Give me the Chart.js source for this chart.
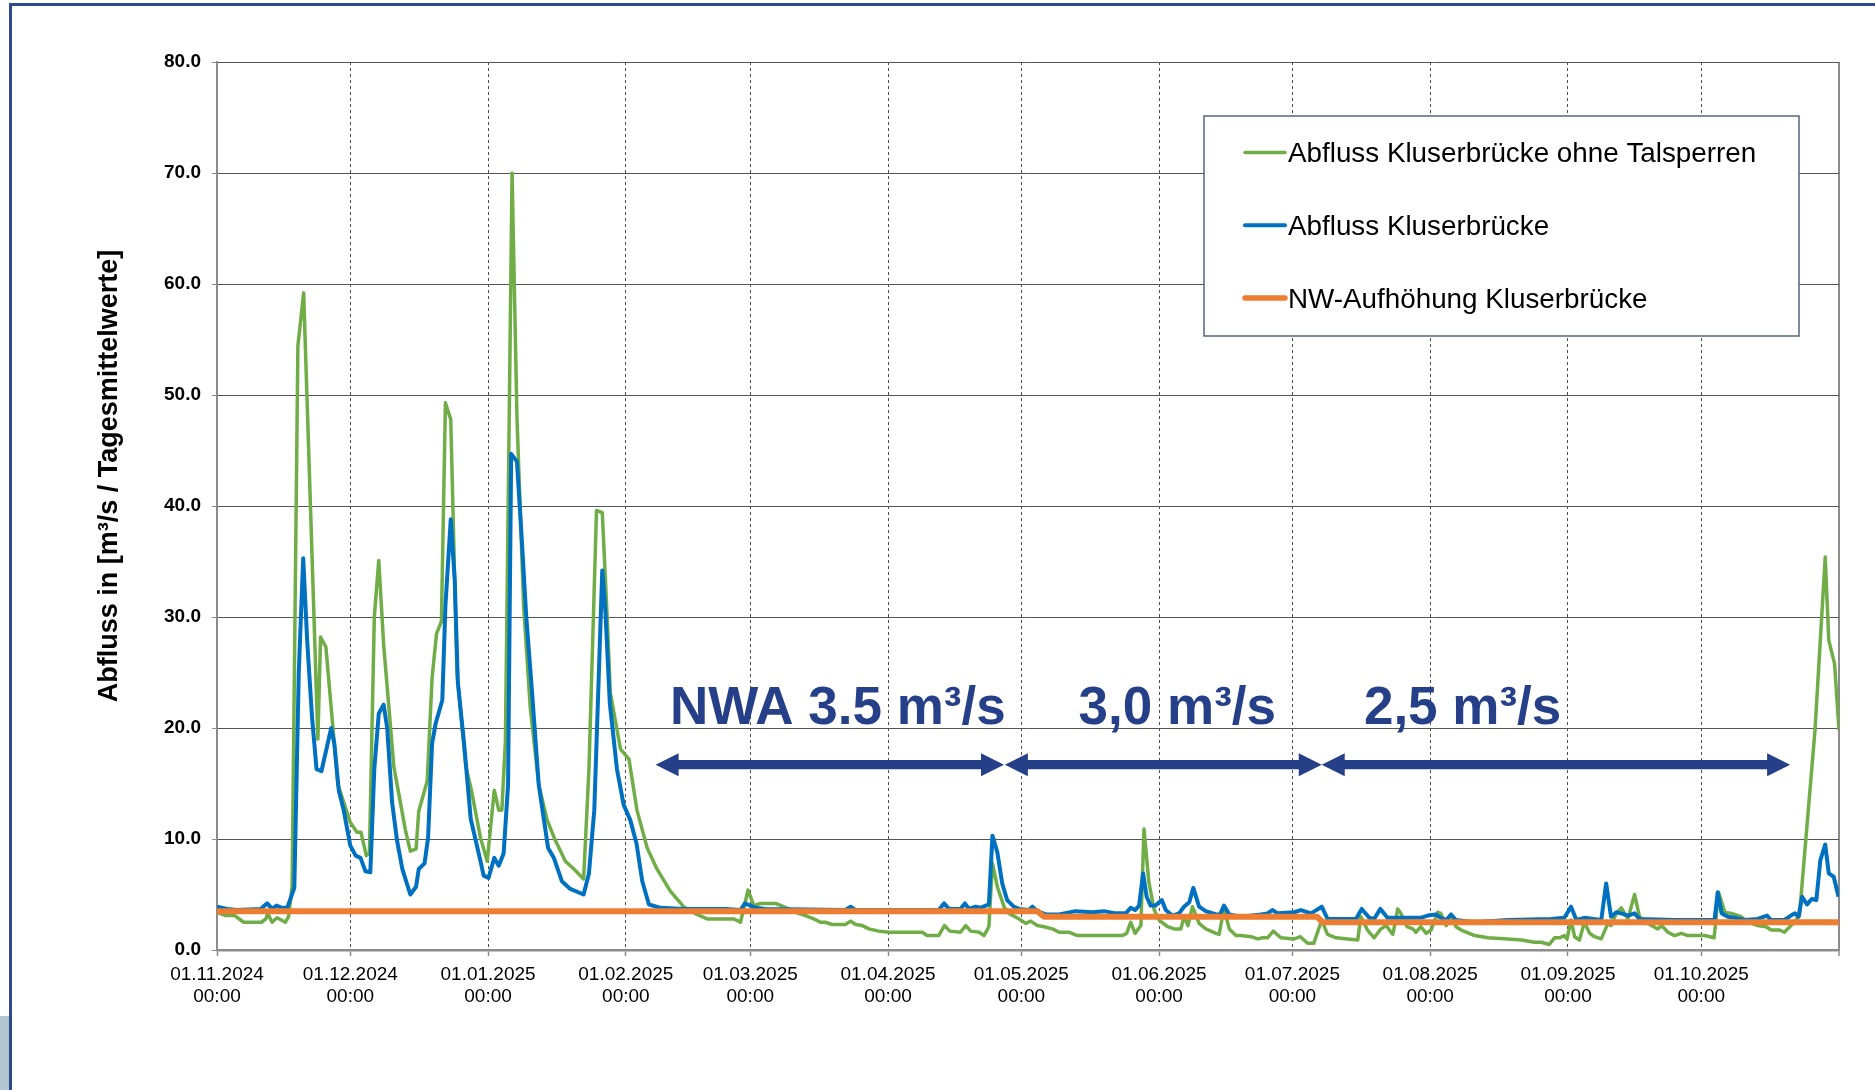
<!DOCTYPE html>
<html lang="de">
<head>
<meta charset="utf-8">
<title>Abfluss Kluserbrücke</title>
<script src="https://cdn.jsdelivr.net/npm/chart.js@4.4.1/dist/chart.umd.min.js"></script>
<style>
  html, body { margin: 0; padding: 0; background: #fff; overflow: hidden; }
  #wrap { position: relative; width: 1875px; height: 1090px; }
  #myChart { position: absolute; left: 0; top: 0; }
  .frame { position: absolute; left: 9px; top: 3px; right: 0; bottom: 0; border-top: 3px solid #2d4a8c; border-left: 3px solid #2d4a8c; pointer-events: none; }
  .corner { position: absolute; left: 0; top: 1016px; width: 9px; height: 74px; background: #b2c6d1; }
</style>
</head>
<body>
<div id="wrap">
  <canvas id="myChart" width="1875" height="1090"></canvas>
  <div class="frame"></div>
  <div class="corner"></div>
</div>
<script>
// days counted from 01.11.2024 (day 0) to 01.11.2025 (day 365)
const monthDays = [0, 30, 61, 92, 120, 151, 181, 212, 242, 273, 304, 334, 365];
const monthLabels = ['01.11.2024', '01.12.2024', '01.01.2025', '01.02.2025', '01.03.2025', '01.04.2025',
  '01.05.2025', '01.06.2025', '01.07.2025', '01.08.2025', '01.09.2025', '01.10.2025', ''];
const timeLabel = '00:00';

const seriesNames = ['Abfluss Kluserbrücke ohne Talsperren', 'Abfluss Kluserbrücke', 'NW-Aufhöhung Kluserbrücke'];
const seriesColors = ['#70ad47', '#0070c0', '#ed7d31'];
const yTitle = 'Abfluss in [m³/s / Tagesmittelwerte]';

// Abfluss ohne Talsperren (green)
const greenDays = [0, 2, 4, 6, 10, 11, 11.4, 12.4, 13.5, 15.4, 16.1, 16.9, 18.2, 19.5, 22.7, 23.3, 24.5, 27.2, 30, 31.5,
  32.4, 33.6, 34.3, 35.4, 36.4, 37.5, 39.8, 42.4, 43.5, 44.8, 45.4, 47.3, 48.4, 49.4, 50.5, 51.4, 52.6, 54, 56, 57.2,
  59.3, 60.8, 62.4, 63.4, 64.1, 64.9, 66.4, 67.5, 69, 70.5, 72.4, 74.3, 76.1, 78.4, 80.3, 82.5, 83.7, 85.4, 86.7, 87.8,
  88.5, 90.8, 92.7, 94.5, 96.8, 99, 102, 105, 108, 110.3, 114.4, 116.3, 117.8, 119.5, 120.8, 122.3, 125.7, 127.5, 130.2, 132.4,
  134.3, 135.8, 136.9, 138.4, 141.4, 142.6, 143.7, 145.2, 146.7, 148.9, 151.2, 158.7, 159.8, 162.4, 163.7, 164.9, 167.3, 168.5, 169.6, 171.5,
  172.6, 173.7, 174.5, 175.6, 177.1, 178.2, 180.5, 182, 183.1, 184.6, 186.1, 188, 189.5, 191.7, 193.6, 203.7, 204.7, 205.6, 206.6, 207.9,
  208.6, 209.7, 210.9, 212, 213.9, 215.4, 216.9, 217.6, 218.5, 219.5, 221, 222.5, 224.8, 225.5, 226.6, 227.8, 229.3, 230.4, 232.7, 234.2,
  235.3, 236.4, 237.7, 239.4, 242.4, 243.8, 245.4, 246.8, 248.6, 249.9, 251.8, 254.4, 256.7, 257.4, 258.9, 260.4, 261.9, 263.1, 264.6, 265.7,
  266.4, 267.8, 269.1, 269.8, 270.9, 272.1, 273.2, 274.7, 275.4, 276.6, 277.7, 278.8, 280, 283, 286, 290.5, 293.5, 296.5, 298, 299.8,
  301, 302.1, 303.2, 303.8, 304.7, 305.5, 306.6, 307.7, 308.9, 310, 311.5, 313, 313.7, 314.9, 316, 317.5, 319, 320.1, 322, 324.2,
  325.1, 326.5, 328, 329.5, 331, 334.8, 336.9, 337.9, 339.3, 340.8, 343, 344.1, 346.7, 348.6, 349.7, 351.6, 352.7, 354.2, 356.1, 359.6,
  361.9, 362.7, 364, 365];
const greenFlow = [3.4, 3.1, 3.1, 2.5, 2.5, 2.8, 3.3, 2.5, 2.9, 2.5, 3.0, 5.7, 54.4, 59.2, 19.0, 28.2, 27.3, 14.9, 11.5, 10.6,
  10.6, 8.5, 8.7, 30.0, 35.1, 27.5, 16.5, 10.8, 8.9, 9.1, 12.5, 15.2, 24.5, 28.5, 29.6, 49.3, 47.8, 25.0, 16.5, 14.5,
  10.1, 8.0, 14.4, 12.6, 12.6, 18.8, 70.0, 48.0, 31.0, 21.8, 14.9, 11.7, 9.9, 8.0, 7.3, 6.4, 16.3, 39.6, 39.4, 30.0,
  23.2, 18.1, 17.2, 12.6, 9.2, 7.3, 5.3, 3.9, 3.2, 2.8, 2.8, 2.8, 2.5, 5.4, 4.0, 4.2, 4.2, 3.9, 3.4, 3.1,
  2.8, 2.5, 2.5, 2.3, 2.3, 2.6, 2.3, 2.2, 1.9, 1.7, 1.6, 1.6, 1.3, 1.3, 2.2, 1.7, 1.6, 2.2, 1.7, 1.6,
  1.3, 2.1, 7.8, 5.7, 3.9, 3.3, 2.8, 2.4, 2.6, 2.2, 2.1, 1.9, 1.6, 1.6, 1.3, 1.3, 1.5, 2.5, 1.5, 2.2,
  10.9, 6.1, 3.6, 2.7, 2.1, 1.9, 1.9, 3.0, 2.2, 3.9, 2.4, 1.9, 1.5, 1.4, 3.7, 1.9, 1.3, 1.3, 1.2, 1.0,
  1.1, 1.1, 1.7, 1.1, 1.0, 1.2, 0.6, 0.6, 2.7, 1.4, 1.1, 1.0, 0.9, 3.0, 1.8, 1.1, 1.9, 2.2, 1.4, 3.7,
  3.3, 2.1, 1.9, 1.6, 2.1, 1.5, 1.8, 3.4, 3.3, 2.2, 3.0, 2.1, 1.8, 1.3, 1.1, 1.0, 0.9, 0.7, 0.7, 0.5,
  1.1, 1.1, 1.3, 1.0, 2.7, 1.2, 0.9, 2.5, 1.5, 1.2, 1.0, 2.4, 2.2, 3.3, 3.8, 2.8, 5.0, 3.0, 2.4, 1.9,
  2.2, 1.6, 1.3, 1.5, 1.3, 1.3, 1.1, 5.2, 3.4, 3.3, 3.0, 2.6, 2.2, 2.1, 1.8, 1.8, 1.6, 2.2, 3.1, 19.8,
  35.4, 27.9, 25.8, 19.8];

// Abfluss Kluserbruecke (blue)
const blueDays = [0, 2.3, 4.5, 9.8, 11.3, 12.4, 13.4, 14.6, 15.8, 17.4, 18.4, 19.4, 20.3, 21.4, 22.4, 23.5, 25.7, 26.4, 27.4, 28.5,
  30, 31.2, 32.3, 33.4, 34.5, 35.4, 36.4, 37.5, 38.3, 39.4, 40.5, 41.7, 43.5, 44.8, 45.4, 46.7, 47.5, 48.4, 49.2, 50.7,
  51.4, 52.6, 53.5, 54.2, 55.6, 57.1, 59.3, 60, 61.1, 62.4, 63.4, 64.5, 65.5, 66.2, 67.5, 68.6, 69.6, 70.9, 72.4, 74.5,
  75.8, 77.6, 79.5, 82.5, 83.7, 84.9, 86.7, 87.4, 88.4, 90, 91.5, 93, 94.4, 95.7, 97.2, 99.8, 105, 114.4, 117.8, 118.8,
  120, 121.2, 123.4, 141.4, 142.6, 143.7, 162.4, 163.6, 164.7, 167.3, 168.3, 169.2, 170.7, 171.8, 173, 173.7, 174.5, 175.6, 176.7, 177.8,
  179.3, 180.5, 182.7, 183.5, 184.6, 186.5, 189.5, 193.2, 197, 199.6, 202.2, 204.5, 205.6, 206.6, 207.5, 208.4, 209.2, 210.1, 211.2, 212.6,
  213.5, 215, 216.5, 217.6, 218.8, 219.7, 221, 222.5, 224.8, 225.7, 226.6, 227.8, 230.4, 234.9, 236.4, 237.5, 238.7, 242.4, 243.9, 246.2,
  248.6, 249.9, 256.3, 257.6, 259.3, 260.4, 261.8, 263.4, 270.9, 272.4, 274.3, 275.4, 276.6, 277.7, 278.8, 283, 290.5, 300.2, 303.2, 304.7,
  305.9, 307.7, 311.5, 312.6, 313.7, 314.9, 316, 317.5, 319, 320.1, 328, 337, 337.7, 338.6, 340, 341.5, 343.7, 346.7, 348.8, 349.7,
  352.7, 354.2, 355.1, 355.9, 356.7, 357.8, 358.9, 359.9, 360.8, 361.9, 362.7, 363.8, 364.9];
const blueFlow = [3.9, 3.7, 3.6, 3.7, 4.2, 3.7, 4.0, 3.8, 3.8, 5.6, 25.0, 35.3, 27.8, 20.9, 16.3, 16.1, 20.0, 18.6, 14.4, 12.6,
  9.4, 8.5, 8.3, 7.1, 7.0, 16.3, 21.3, 22.1, 20.0, 13.3, 9.9, 7.3, 5.0, 5.7, 7.3, 7.8, 10.1, 18.6, 20.4, 22.5,
  31.0, 38.8, 33.3, 24.1, 18.6, 11.8, 8.0, 6.7, 6.5, 8.3, 7.6, 8.7, 14.9, 44.7, 44.0, 36.9, 30.0, 23.2, 14.9, 9.2,
  8.3, 6.2, 5.5, 5.0, 6.9, 12.6, 34.2, 30.5, 22.2, 16.3, 13.1, 11.7, 9.6, 6.2, 4.1, 3.8, 3.7, 3.7, 3.6, 4.2,
  4.0, 3.8, 3.7, 3.6, 3.9, 3.6, 3.6, 4.2, 3.7, 3.7, 4.2, 3.7, 3.9, 3.8, 4.0, 4.1, 10.3, 8.8, 6.0, 4.5,
  3.9, 3.7, 3.6, 3.9, 3.5, 3.2, 3.2, 3.5, 3.4, 3.5, 3.3, 3.3, 3.8, 3.6, 4.0, 6.9, 4.8, 4.0, 4.0, 4.5,
  3.6, 3.1, 3.3, 3.9, 4.3, 5.6, 3.9, 3.5, 3.2, 3.2, 4.0, 3.2, 3.0, 3.2, 3.3, 3.6, 3.3, 3.4, 3.6, 3.3,
  3.9, 2.8, 2.8, 3.7, 2.9, 2.8, 3.7, 2.9, 2.9, 3.1, 3.2, 2.9, 2.7, 3.2, 2.7, 2.5, 2.7, 2.8, 2.9, 3.9,
  2.7, 2.9, 2.7, 6.0, 3.0, 3.4, 3.3, 3.1, 3.3, 2.8, 2.7, 2.7, 5.2, 3.3, 3.0, 2.9, 2.7, 2.8, 3.1, 2.7,
  2.7, 3.1, 3.3, 3.0, 4.8, 4.1, 4.6, 4.5, 8.1, 9.5, 6.9, 6.6, 4.8];

// NW-Aufhoehung (orange)
const nwaDays = [0, 184.6, 186.1, 247.5, 248.8, 365];
const nwaFlow = [3.5, 3.5, 3.0, 3.0, 2.5, 2.5];

// phase annotations
const phaseLabels = ['NWA 3.5 m³/s', '3,0 m³/s', '2,5 m³/s'];
const phaseLabelDays = [139.7, 216.1, 280.3];
const phaseStart = [98.7, 177.3, 248.6];
const phaseEnd = [177.1, 248.6, 354.0];
const arrowLevel = 16.7;
const labelLevel = 20.4;

const FONT = '"Liberation Sans", Arial, sans-serif';
const NAVY = '#253f88';

function toPoints(days, vals) {
    return days.map(function (d, i) { return { x: d, y: vals[i] }; });
}

function drawArrow(c, x1, x2, yc) {
    var hl = 23, hh = 11.5, sh = 4.7;
    c.beginPath();
    c.moveTo(x1, yc);
    c.lineTo(x1 + hl, yc - hh);
    c.lineTo(x1 + hl, yc - sh);
    c.lineTo(x2 - hl, yc - sh);
    c.lineTo(x2 - hl, yc - hh);
    c.lineTo(x2, yc);
    c.lineTo(x2 - hl, yc + hh);
    c.lineTo(x2 - hl, yc + sh);
    c.lineTo(x1 + hl, yc + sh);
    c.lineTo(x1 + hl, yc + hh);
    c.closePath();
    c.fill();
}

const extras = {
    id: 'extras',
    afterDatasetsDraw: function (chart) {
        var c = chart.ctx, xs = chart.scales.x, ys = chart.scales.y;
        c.save();
        c.fillStyle = NAVY;
        for (var i = 0; i < phaseStart.length; i++) {
            drawArrow(c, xs.getPixelForValue(phaseStart[i]), xs.getPixelForValue(phaseEnd[i]), ys.getPixelForValue(arrowLevel));
        }
        c.font = 'bold 53px ' + FONT;
        c.textAlign = 'center';
        c.textBaseline = 'alphabetic';
        phaseLabels.forEach(function (t, i) {
            c.fillText(t, xs.getPixelForValue(phaseLabelDays[i]), ys.getPixelForValue(labelLevel));
        });
        c.restore();
    },
    afterDraw: function (chart) {
        var c = chart.ctx;
        c.save();
        // legend box
        c.fillStyle = '#fff';
        c.fillRect(1204, 116, 595, 220);
        c.strokeStyle = '#56657c';
        c.lineWidth = 1.5;
        c.strokeRect(1204, 116, 595, 220);
        var widths = [3.5, 4, 5.5];
        c.font = '27.8px ' + FONT;
        c.textAlign = 'left';
        c.textBaseline = 'alphabetic';
        seriesNames.forEach(function (name, i) {
            var mid = 152.5 + i * 72.8;
            c.strokeStyle = seriesColors[i];
            c.lineWidth = widths[i];
            c.lineCap = 'round';
            c.beginPath();
            c.moveTo(1245, mid);
            c.lineTo(1285, mid);
            c.stroke();
            c.fillStyle = '#000';
            c.fillText(name, 1288, mid + 9.6);
        });
        // y axis title
        c.translate(110, 476);
        c.rotate(-Math.PI / 2);
        c.font = 'bold 27px ' + FONT;
        c.textAlign = 'center';
        c.textBaseline = 'middle';
        c.fillStyle = '#000';
        c.fillText(yTitle, 0, 0);
        c.restore();
    }
};

const lastTick = monthDays.length - 1;
const ctx = document.getElementById('myChart');
const myChart = new Chart(ctx, {
    type: 'line',
    data: {
        datasets: [{
            label: seriesNames[0],
            data: toPoints(greenDays, greenFlow),
            borderColor: seriesColors[0],
            borderWidth: 3.5,
            order: 3
        }, {
            label: seriesNames[1],
            data: toPoints(blueDays, blueFlow),
            borderColor: seriesColors[1],
            borderWidth: 4,
            order: 2
        }, {
            label: seriesNames[2],
            data: toPoints(nwaDays, nwaFlow),
            borderColor: seriesColors[2],
            borderWidth: 6,
            order: 1
        }]
    },
    options: {
        responsive: false,
        animation: false,
        devicePixelRatio: 1,
        elements: {
            point: { radius: 0 },
            line: { tension: 0, borderJoinStyle: 'round', fill: false }
        },
        layout: { padding: { left: 0, right: 36, top: 62, bottom: 0 } },
        plugins: {
            legend: { display: false },
            tooltip: { enabled: false }
        },
        scales: {
            x: {
                type: 'linear',
                min: 0,
                max: 365,
                afterBuildTicks: function (s) { s.ticks = monthDays.map(function (v) { return { value: v }; }); },
                afterFit: function (s) { s.height = 140; },
                ticks: {
                    autoSkip: false,
                    maxRotation: 0,
                    minRotation: 0,
                    padding: 7,
                    color: '#000',
                    font: { family: FONT, size: 19 },
                    callback: function (v, i) { return monthLabels[i] ? [monthLabels[i], timeLabel] : ''; }
                },
                grid: {
                    color: function (c) { return c.index === 0 ? 'rgba(0,0,0,0)' : (c.index === lastTick ? '#8c8c8c' : '#4d4d4d'); },
                    lineWidth: function (c) { return c.index === lastTick ? 2 : 1; },
                    tickLength: 6,
                    tickColor: '#8c8c8c',
                    tickWidth: 1.5
                },
                border: {
                    display: true,
                    color: '#8c8c8c',
                    width: 2.5,
                    dash: function (c) { return (c.index > 0 && c.index < lastTick) ? [3, 3] : []; }
                }
            },
            y: {
                min: 0,
                max: 80,
                afterFit: function (s) { s.width = 217; },
                ticks: {
                    stepSize: 10,
                    padding: 11,
                    color: '#000',
                    font: { family: FONT, size: 19, weight: 'bold' },
                    callback: function (v) { return v.toFixed(1); }
                },
                grid: { color: '#555', lineWidth: 1, tickLength: 5, tickColor: '#8c8c8c' },
                border: { color: '#8c8c8c', width: 2 }
            }
        }
    },
    plugins: [extras]
});
</script>
</body>
</html>
